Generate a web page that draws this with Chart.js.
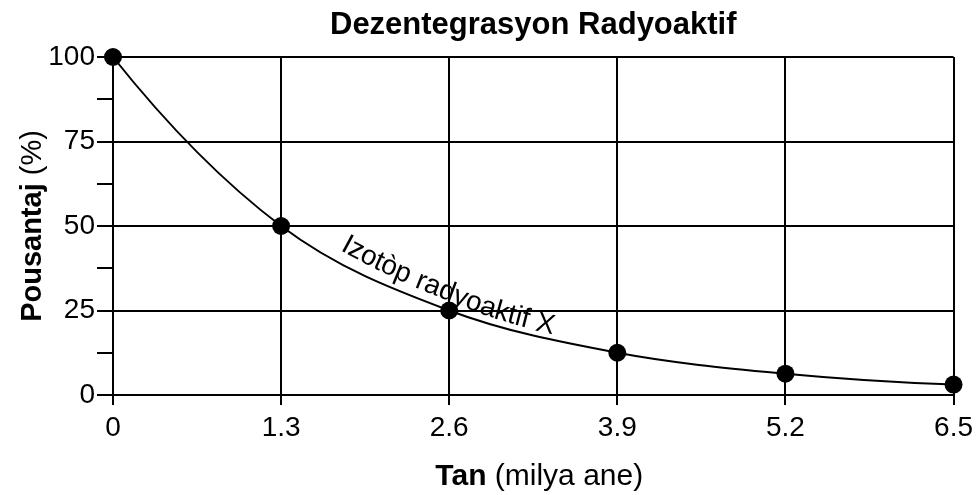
<!DOCTYPE html>
<html>
<head>
<meta charset="utf-8">
<script src="https://cdn.jsdelivr.net/npm/chart.js@4"></script>
<style>
  html, body { margin: 0; padding: 0; background: #fff; }
  #wrap { width: 979px; height: 495px; }
</style>
</head>
<body>
<div id="wrap"><canvas id="decayChart" width="979" height="495"></canvas></div>
<script>
// data
const times = [0, 1.3, 2.6, 3.9, 5.2, 6.5];          // milya ane
const percents = [100, 50, 25, 12.5, 6.3, 3.1];       // %
const xTicks = [0, 1.3, 2.6, 3.9, 5.2, 6.5];
const yTicks = [0, 12.5, 25, 37.5, 50, 62.5, 75, 87.5, 100];
const yLabelled = [0, 25, 50, 75, 100];

const titleText = 'Dezentegrasyon Radyoaktif';
const xTitleBold = 'Tan', xTitleRest = ' (milya ane)';
const yTitleBold = 'Pousantaj', yTitleRest = ' (%)';
const curveLabel = 'Izotòp radyoaktif X';

const FONT = '"Liberation Sans", Arial, sans-serif';

// draws bold+regular pair centred at 0,0 (caller handles transform)
function drawMixed(ctx, bold, rest, size) {
    ctx.font = 'bold ' + size + 'px ' + FONT;
    const wb = ctx.measureText(bold).width;
    ctx.font = size + 'px ' + FONT;
    const wr = ctx.measureText(rest).width;
    let x = -(wb + wr) / 2;
    ctx.textAlign = 'left';
    ctx.font = 'bold ' + size + 'px ' + FONT;
    ctx.fillText(bold, x, 0);
    ctx.font = size + 'px ' + FONT;
    ctx.fillText(rest, x + wb, 0);
}

// pchip-style end slopes instead of plain secants at both ends of the curve
const endSlopes = {
    id: 'endSlopes',
    beforeDatasetDraw(chart, args) {
        const meta = args.meta;
        const line = meta.dataset;
        const pts = meta.data;
        if (!line || pts.length < 3) return;
        line.updateControlPoints(chart.chartArea);
        const fix = (i0, i1, i2, prop) => {
            const p0 = pts[i0], p1 = pts[i1], p2 = pts[i2];
            const h0 = p1.x - p0.x, h1 = p2.x - p1.x;
            const d0 = (p1.y - p0.y) / h0, d1 = (p2.y - p1.y) / h1;
            let m = ((2 * h0 + h1) * d0 - h0 * d1) / (h0 + h1);
            if (Math.sign(m) !== Math.sign(d0)) m = 0;
            else if (Math.sign(d0) !== Math.sign(d1) && Math.abs(m) > Math.abs(3 * d0)) m = 3 * d0;
            const dx = (p1.x - p0.x) / 3;
            p0[prop + 'x'] = p0.x + dx;
            p0[prop + 'y'] = p0.y + m * dx;
        };
        fix(0, 1, 2, 'cp2');
        const n = pts.length - 1;
        fix(n, n - 1, n - 2, 'cp1');
    }
};

const textPlugin = {
    id: 'texts',
    afterDraw(chart) {
        const ctx = chart.ctx;
        const area = chart.chartArea;
        ctx.save();
        ctx.fillStyle = '#000';
        ctx.textBaseline = 'alphabetic';

        // title
        ctx.font = 'bold 31px ' + FONT;
        ctx.textAlign = 'center';
        ctx.fillText(titleText, (area.left + area.right) / 2, 34);

        // x axis title
        ctx.save();
        ctx.translate((area.left + area.right) / 2 + 6, 485);
        drawMixed(ctx, xTitleBold, xTitleRest, 30);
        ctx.restore();

        // y axis title
        ctx.save();
        ctx.translate(41, (area.top + area.bottom) / 2);
        ctx.rotate(-Math.PI / 2);
        drawMixed(ctx, yTitleBold, yTitleRest, 29);
        ctx.restore();

        // label following the curve
        const pts = chart.getDatasetMeta(0).data;
        const poly = [];
        for (let i = 0; i < pts.length - 1; i++) {
            const a = pts[i], b = pts[i + 1];
            const c1x = a.cp2x ?? a.x, c1y = a.cp2y ?? a.y;
            const c2x = b.cp1x ?? b.x, c2y = b.cp1y ?? b.y;
            for (let k = 0; k < 60; k++) {
                const t = k / 60, u = 1 - t;
                poly.push([
                    u*u*u*a.x + 3*u*u*t*c1x + 3*u*t*t*c2x + t*t*t*b.x,
                    u*u*u*a.y + 3*u*u*t*c1y + 3*u*t*t*c2y + t*t*t*b.y
                ]);
            }
        }
        const last = pts[pts.length - 1];
        poly.push([last.x, last.y]);
        const cum = [0];
        for (let i = 1; i < poly.length; i++) {
            cum.push(cum[i-1] + Math.hypot(poly[i][0]-poly[i-1][0], poly[i][1]-poly[i-1][1]));
        }
        function at(s) {
            let i = 1;
            while (i < cum.length - 1 && cum[i] < s) i++;
            const f = (s - cum[i-1]) / (cum[i] - cum[i-1] || 1);
            const x = poly[i-1][0] + f * (poly[i][0] - poly[i-1][0]);
            const y = poly[i-1][1] + f * (poly[i][1] - poly[i-1][1]);
            const ang = Math.atan2(poly[i][1] - poly[i-1][1], poly[i][0] - poly[i-1][0]);
            return { x, y, ang };
        }
        let s0 = 0;
        for (let i = 0; i < poly.length; i++) { if (poly[i][0] >= 334) { s0 = cum[i]; break; } }
        ctx.font = '28px ' + FONT;
        ctx.textAlign = 'left';
        const total = ctx.measureText(curveLabel).width;
        let s = s0;
        for (const ch of curveLabel) {
            const w = ctx.measureText(ch).width;
            const p = at(s + w / 2);
            const offset = 12 - 7 * (s - s0) / total;
            ctx.save();
            ctx.translate(p.x + Math.sin(p.ang) * offset, p.y - Math.cos(p.ang) * offset);
            ctx.rotate(p.ang);
            ctx.fillText(ch, -w / 2, 0);
            ctx.restore();
            s += w;
        }
        ctx.restore();
    }
};

const ctx = document.getElementById('decayChart').getContext('2d');
new Chart(ctx, {
    type: 'line',
    data: {
        datasets: [{
            data: times.map((t, i) => ({ x: t, y: percents[i] })),
            borderColor: '#000',
            borderWidth: 2,
            backgroundColor: '#000',
            pointBackgroundColor: '#000',
            pointBorderWidth: 0,
            pointRadius: 9,
            cubicInterpolationMode: 'monotone',
            fill: false,
            clip: false
        }]
    },
    options: {
        responsive: false,
        animation: false,
        devicePixelRatio: 1,
        layout: { padding: { top: 57, right: 23, left: 0, bottom: 0 } },
        plugins: {
            legend: { display: false },
            title: { display: false },
            tooltip: { enabled: false }
        },
        scales: {
            x: {
                type: 'linear',
                min: 0,
                max: 6.5,
                afterBuildTicks: scale => { scale.ticks = xTicks.map(v => ({ value: v })); },
                afterFit: scale => { scale.height = 100; },
                ticks: {
                    color: '#000',
                    font: { family: FONT, size: 28 },
                    padding: 6,
                    maxRotation: 0,
                    callback: v => String(v)
                },
                grid: { color: '#000', lineWidth: 2, tickLength: 10, tickColor: '#000' },
                border: { color: '#000', width: 2 }
            },
            y: {
                min: 0,
                max: 100,
                afterBuildTicks: scale => { scale.ticks = yTicks.map(v => ({ value: v })); },
                afterFit: scale => { scale.width = 113; },
                ticks: {
                    color: '#000',
                    font: { family: FONT, size: 28 },
                    padding: 2,
                    callback: v => yLabelled.includes(v) ? String(v) : ''
                },
                grid: {
                    color: c => yLabelled.includes(c.tick.value) ? '#000' : 'rgba(0,0,0,0)',
                    tickColor: '#000',
                    lineWidth: 2,
                    tickLength: 16
                },
                border: { color: '#000', width: 2 }
            }
        }
    },
    plugins: [endSlopes, textPlugin]
});
</script>
</body>
</html>
